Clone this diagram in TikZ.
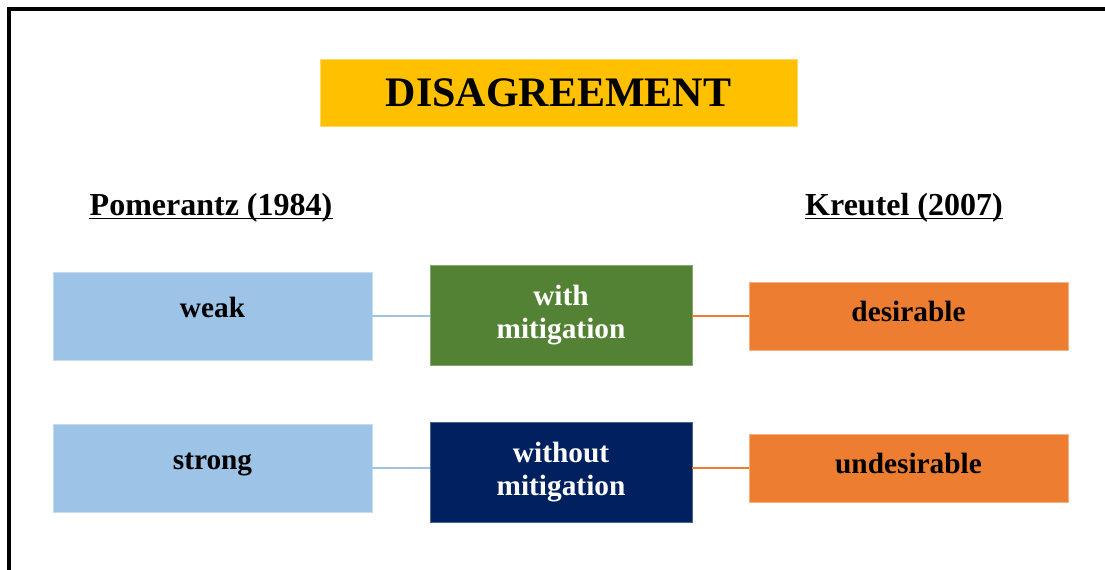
\documentclass[tikz,border=0pt]{standalone}
\usepackage{fontspec}
\setmainfont{Liberation Serif}
\definecolor{titleyellow}{HTML}{FFC000}
\definecolor{lightblue}{HTML}{9DC3E6}
\definecolor{mitgreen}{HTML}{548235}
\definecolor{navyblue}{HTML}{002060}
\definecolor{deeporange}{HTML}{ED7D31}
\tikzset{
  box/.style={inner sep=0pt,align=center,font=\fontsize{22}{24.75}\selectfont\bfseries},
  sidebox/.style={box,fill=lightblue,draw=lightblue!60!white,line width=0.6pt,
    minimum width=239.25pt,minimum height=66pt,text height=15pt,text depth=13.5pt},
  midbox/.style={box,text=white,draw=#1!70!white,fill=#1,line width=0.6pt,
    minimum width=196.5pt,minimum height=75pt},
  resbox/.style={box,fill=deeporange,draw=deeporange!60!white,line width=0.6pt,
    minimum width=239.25pt,minimum height=51pt,text height=15pt,text depth=7.5pt},
  heading/.style={inner sep=0pt,anchor=base,font=\fontsize{24}{28}\selectfont\bfseries},
  link/.style={line width=1.5pt,draw=#1}
}
\begin{document}
\begin{tikzpicture}[x=0.75pt,y=-0.75pt]
\clip (0,0) rectangle (1105,570);
%\draw[step=50,gray,very thin] (0,0) grid (1105,570);
\draw[line width=2.4pt] (9,9) rectangle (1140,600);
% title
\node[box,fill=titleyellow,draw=titleyellow!60!white,line width=0.6pt,
  minimum width=357.75pt,minimum height=50.25pt,
  font=\fontsize{31.5}{36}\selectfont\bfseries] (title) at (558.5,92.5) {DISAGREEMENT};
% authors
\node[heading] (pom) at (211,215) {Pomerantz (1984)};
\node[heading] (kreu) at (904,215) {Kreutel (2007)};
\draw[line width=1.2pt] ([yshift=-2.6pt]pom.base west) -- ([yshift=-2.6pt]pom.base east);
\draw[line width=1.2pt] ([yshift=-2.6pt]kreu.base west) -- ([yshift=-2.6pt]kreu.base east);
% first row
\node[sidebox] (weak) at (212.5,316) {weak};
\node[midbox=mitgreen] (with) at (561,315) {with\\mitigation};
\node[resbox] (desir) at (908.5,316) {desirable};
% second row
\node[sidebox] (strong) at (212.5,468) {strong};
\node[midbox=navyblue] (without) at (561,472) {without\\mitigation};
\node[resbox] (undesir) at (908.5,468) {undesirable};
% links
\draw[link=lightblue] (weak.east) -- (weak.east -| with.west);
\draw[link=deeporange] (desir.west -| with.east) -- (desir.west);
\draw[link=lightblue] (strong.east) -- (strong.east -| without.west);
\draw[link=deeporange] (undesir.west -| without.east) -- (undesir.west);
\end{tikzpicture}
\end{document}
